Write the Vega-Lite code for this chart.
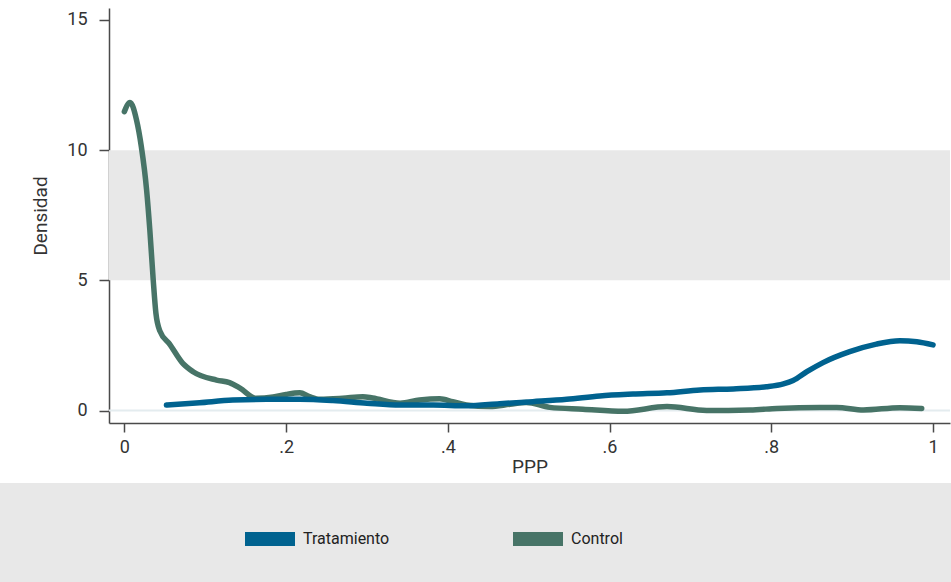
{
  "$schema": "https://vega.github.io/schema/vega-lite/v6.json",
  "width": 841,
  "height": 415,
  "autosize": {"type": "none"},
  "padding": {"left": 109, "top": 8, "right": 1, "bottom": 159},
  "background": "white",
  "config": {
    "font": "Roboto",
    "view": {"stroke": null},
    "axis": {
      "domainColor": "#4a4a4a",
      "domainWidth": 1.5,
      "tickColor": "#4a4a4a",
      "tickWidth": 1.5,
      "grid": false,
      "labelColor": "#333333",
      "labelFont": "Roboto",
      "labelFontSize": 18,
      "titleColor": "#333333",
      "titleFont": "Roboto",
      "titleFontSize": 19,
      "titleFontWeight": "normal"
    },
    "legend": {
      "orient": "none",
      "legendX": 129,
      "legendY": 499,
      "direction": "horizontal",
      "title": null,
      "symbolType": "stroke",
      "symbolSize": 2500,
      "symbolStrokeWidth": 14,
      "labelFont": "Roboto",
      "labelFontSize": 16,
      "labelColor": "#222222",
      "labelOffset": 1,
      "columnPadding": 95,
      "padding": 0
    }
  },
  "datasets": {
    "densidad": [
      {"grupo": "Control", "ppp": 0.0, "densidad": 11.48},
      {"grupo": "Control", "ppp": 0.007, "densidad": 11.83},
      {"grupo": "Control", "ppp": 0.015, "densidad": 11.16},
      {"grupo": "Control", "ppp": 0.021, "densidad": 10.13},
      {"grupo": "Control", "ppp": 0.0275, "densidad": 8.47},
      {"grupo": "Control", "ppp": 0.0315, "densidad": 6.93},
      {"grupo": "Control", "ppp": 0.0357, "densidad": 5.01},
      {"grupo": "Control", "ppp": 0.039, "densidad": 3.74},
      {"grupo": "Control", "ppp": 0.044, "densidad": 3.05},
      {"grupo": "Control", "ppp": 0.056, "densidad": 2.55},
      {"grupo": "Control", "ppp": 0.072, "densidad": 1.82},
      {"grupo": "Control", "ppp": 0.085, "densidad": 1.49},
      {"grupo": "Control", "ppp": 0.114, "densidad": 1.17},
      {"grupo": "Control", "ppp": 0.13, "densidad": 1.07},
      {"grupo": "Control", "ppp": 0.143, "densidad": 0.86},
      {"grupo": "Control", "ppp": 0.163, "densidad": 0.47},
      {"grupo": "Control", "ppp": 0.184, "densidad": 0.52},
      {"grupo": "Control", "ppp": 0.2, "densidad": 0.62},
      {"grupo": "Control", "ppp": 0.217, "densidad": 0.68},
      {"grupo": "Control", "ppp": 0.229, "densidad": 0.53},
      {"grupo": "Control", "ppp": 0.242, "densidad": 0.43},
      {"grupo": "Control", "ppp": 0.27, "densidad": 0.47},
      {"grupo": "Control", "ppp": 0.295, "densidad": 0.53},
      {"grupo": "Control", "ppp": 0.307, "densidad": 0.48},
      {"grupo": "Control", "ppp": 0.341, "densidad": 0.28},
      {"grupo": "Control", "ppp": 0.365, "densidad": 0.4},
      {"grupo": "Control", "ppp": 0.39, "densidad": 0.45},
      {"grupo": "Control", "ppp": 0.406, "densidad": 0.34},
      {"grupo": "Control", "ppp": 0.423, "densidad": 0.21},
      {"grupo": "Control", "ppp": 0.452, "densidad": 0.15},
      {"grupo": "Control", "ppp": 0.477, "densidad": 0.24},
      {"grupo": "Control", "ppp": 0.497, "densidad": 0.31},
      {"grupo": "Control", "ppp": 0.526, "densidad": 0.12},
      {"grupo": "Control", "ppp": 0.567, "densidad": 0.05},
      {"grupo": "Control", "ppp": 0.617, "densidad": -0.03},
      {"grupo": "Control", "ppp": 0.671, "densidad": 0.15},
      {"grupo": "Control", "ppp": 0.72, "densidad": 0.0},
      {"grupo": "Control", "ppp": 0.774, "densidad": 0.02},
      {"grupo": "Control", "ppp": 0.807, "densidad": 0.08},
      {"grupo": "Control", "ppp": 0.86, "densidad": 0.12},
      {"grupo": "Control", "ppp": 0.881, "densidad": 0.12},
      {"grupo": "Control", "ppp": 0.914, "densidad": 0.02},
      {"grupo": "Control", "ppp": 0.959, "densidad": 0.11},
      {"grupo": "Control", "ppp": 0.986, "densidad": 0.08},
      {"grupo": "Tratamiento", "ppp": 0.052, "densidad": 0.21},
      {"grupo": "Tratamiento", "ppp": 0.093, "densidad": 0.3},
      {"grupo": "Tratamiento", "ppp": 0.134, "densidad": 0.4},
      {"grupo": "Tratamiento", "ppp": 0.176, "densidad": 0.43},
      {"grupo": "Tratamiento", "ppp": 0.217, "densidad": 0.43},
      {"grupo": "Tratamiento", "ppp": 0.258, "densidad": 0.38},
      {"grupo": "Tratamiento", "ppp": 0.3, "densidad": 0.28},
      {"grupo": "Tratamiento", "ppp": 0.341, "densidad": 0.21},
      {"grupo": "Tratamiento", "ppp": 0.382, "densidad": 0.21},
      {"grupo": "Tratamiento", "ppp": 0.423, "densidad": 0.18},
      {"grupo": "Tratamiento", "ppp": 0.464, "densidad": 0.26},
      {"grupo": "Tratamiento", "ppp": 0.505, "densidad": 0.34},
      {"grupo": "Tratamiento", "ppp": 0.547, "densidad": 0.43},
      {"grupo": "Tratamiento", "ppp": 0.588, "densidad": 0.56},
      {"grupo": "Tratamiento", "ppp": 0.629, "densidad": 0.63},
      {"grupo": "Tratamiento", "ppp": 0.671, "densidad": 0.68},
      {"grupo": "Tratamiento", "ppp": 0.712, "densidad": 0.79},
      {"grupo": "Tratamiento", "ppp": 0.753, "densidad": 0.83},
      {"grupo": "Tratamiento", "ppp": 0.794, "densidad": 0.91},
      {"grupo": "Tratamiento", "ppp": 0.815, "densidad": 1.02},
      {"grupo": "Tratamiento", "ppp": 0.827, "densidad": 1.15},
      {"grupo": "Tratamiento", "ppp": 0.844, "densidad": 1.49},
      {"grupo": "Tratamiento", "ppp": 0.864, "densidad": 1.84},
      {"grupo": "Tratamiento", "ppp": 0.897, "densidad": 2.26},
      {"grupo": "Tratamiento", "ppp": 0.93, "densidad": 2.55},
      {"grupo": "Tratamiento", "ppp": 0.959, "densidad": 2.68},
      {"grupo": "Tratamiento", "ppp": 0.98, "densidad": 2.64},
      {"grupo": "Tratamiento", "ppp": 1.0, "densidad": 2.52}
    ]
  },
  "layer": [
    {
      "description": "Shaded band between 5 and 10 on the density axis",
      "data": {"values": [{}]},
      "mark": {"type": "rect", "color": "#e8e8e8"},
      "encoding": {
        "y": {"datum": 10, "type": "quantitative"},
        "y2": {"datum": 5}
      }
    },
    {
      "description": "Legend panel behind the key",
      "data": {"values": [{}]},
      "mark": {"type": "rect", "color": "#e8e8e8", "clip": false},
      "encoding": {
        "x": {"datum": -0.2, "type": "quantitative"},
        "x2": {"datum": 1.1},
        "y": {"datum": -2.785, "type": "quantitative"},
        "y2": {"datum": -7}
      }
    },
    {
      "description": "Baseline at zero density",
      "data": {"values": [{}]},
      "mark": {"type": "rule", "color": "#e4ecef", "strokeWidth": 2},
      "encoding": {
        "y": {"datum": 0, "type": "quantitative"}
      }
    },
    {
      "data": {"name": "densidad"},
      "mark": {
        "type": "line",
        "strokeWidth": 5.5,
        "strokeCap": "round",
        "strokeJoin": "round",
        "interpolate": "monotone"
      },
      "encoding": {
        "x": {
          "field": "ppp",
          "type": "quantitative",
          "title": "PPP",
          "scale": {"domain": [-0.019, 1.021], "nice": false, "zero": false},
          "axis": {
            "values": [0, 0.2, 0.4, 0.6, 0.8, 1],
            "tickSize": 9,
            "labelPadding": 6,
            "titlePadding": 1,
            "zindex": 1,
            "labelExpr": "datum.value > 0 && datum.value < 1 ? substring(format(datum.value, '.1f'), 1) : format(datum.value, 'd')"
          }
        },
        "y": {
          "field": "densidad",
          "type": "quantitative",
          "title": "Densidad",
          "scale": {"domain": [-0.48, 15.46], "nice": false, "zero": false},
          "axis": {
            "values": [0, 5, 10, 15],
            "tickSize": 10,
            "labelPadding": 12,
            "titlePadding": 16
          }
        },
        "color": {
          "field": "grupo",
          "type": "nominal",
          "scale": {
            "domain": ["Tratamiento", "Control"],
            "range": ["#00628f", "#477467"]
          }
        }
      }
    }
  ]
}
